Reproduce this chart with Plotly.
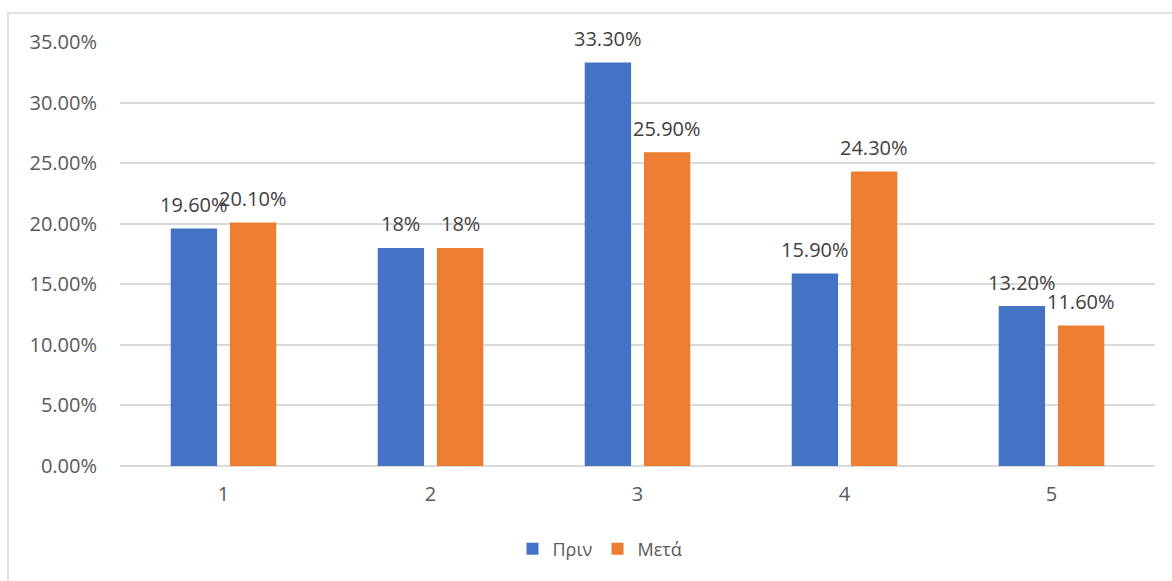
import plotly.graph_objects as go

# Chart data
categories = [1, 2, 3, 4, 5]
series_names = ["Πριν", "Μετά"]
before = [19.6, 18.0, 33.3, 15.9, 13.2]
after = [20.1, 18.0, 25.9, 24.3, 11.6]
y_ticks = [0, 5, 10, 15, 20, 25, 30, 35]
y_tick_labels = ["0.00%", "5.00%", "10.00%", "15.00%", "20.00%", "25.00%", "30.00%", "35.00%"]

colors = ["#4472C4", "#ED7D31"]
font_family = "Open Sans, Noto Sans, sans-serif"

W, H = 1172, 581
L, R, T, B = 120, 17, 42, 115
plot_w = W - L - R
plot_h = H - T - B

bar_width = 0.224
offsets = [-0.255, 0.031]


def fmt(v):
    return f"{v:.0f}%" if float(v).is_integer() else f"{v:.2f}%"


fig = go.Figure()
for name, vals, color, off in zip(series_names, [before, after], colors, offsets):
    fig.add_trace(go.Bar(
        x=categories, y=vals, name=name,
        marker=dict(color=color, line=dict(width=0)),
        width=bar_width, offset=off,
    ))

# Value labels above each bar
annotations = []
for vals, off in zip([before, after], offsets):
    for c, v in zip(categories, vals):
        annotations.append(dict(
            x=c + off + bar_width / 2, y=v, xref="x", yref="y",
            text=fmt(v), showarrow=False, yanchor="middle", yshift=24,
            font=dict(family=font_family, size=20, color="#404040"),
        ))


def px_x(p):
    return (p - L) / plot_w


def px_y(p):
    return (H - B - p) / plot_h


# Chart-area frame
shapes = [dict(
    type="rect", xref="paper", yref="paper",
    x0=px_x(8), x1=px_x(1200), y0=px_y(600), y1=px_y(13),
    line=dict(color="#D9D9D9", width=1.5), fillcolor="rgba(0,0,0,0)", layer="below",
)]

fig.update_layout(
    width=W, height=H,
    margin=dict(l=L, r=R, t=T, b=B),
    paper_bgcolor="white", plot_bgcolor="white",
    barmode="overlay",
    showlegend=True,
    legend=dict(
        orientation="h", x=px_x(600), xanchor="center", y=px_y(549), yanchor="middle",
        font=dict(family=font_family, size=18, color="#595959"),
        itemwidth=30, tracegroupgap=0,
    ),
    annotations=annotations,
    shapes=shapes,
    font=dict(family=font_family, size=20, color="#595959"),
)

fig.update_xaxes(
    range=[0.5, 5.5], tickmode="array", tickvals=categories,
    ticktext=[str(c) for c in categories],
    showgrid=False, zeroline=False, showline=False, ticks="",
    ticklabelstandoff=14,
    tickfont=dict(family=font_family, size=20, color="#595959"),
)
fig.update_yaxes(
    range=[0, 35], tickmode="array", tickvals=y_ticks, ticktext=y_tick_labels,
    showgrid=True, gridcolor="#D9D9D9", gridwidth=1.5,
    zeroline=True, zerolinecolor="#D9D9D9", zerolinewidth=1.5,
    showline=False, ticks="", ticklabelstandoff=22,
    tickfont=dict(family=font_family, size=20, color="#595959"),
)

fig.write_html("out.html")
